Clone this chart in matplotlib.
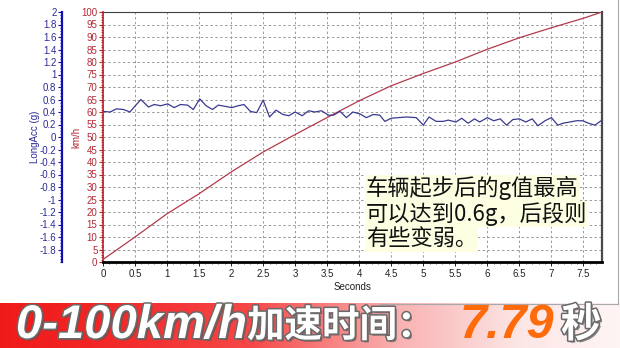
import numpy as np
import matplotlib
matplotlib.use("Agg")
import matplotlib.pyplot as plt
import matplotlib.patheffects as pe
from matplotlib.lines import Line2D
from matplotlib.ticker import MultipleLocator, FixedLocator

# ---------------- data ----------------
speed_time = [0, 0.5, 1.0, 1.5, 2.0, 2.5, 3.0, 3.5, 4.0, 4.5, 5.0, 5.5, 6.0, 6.5, 7.0, 7.5, 7.79]
speed_kmh = [1, 10, 19.3, 27.3, 36, 44, 51, 57.8, 64.5, 70.5, 75.4, 80, 85.1, 89.7, 93.7, 97.5, 100]

acc_time = [0, 0.11, 0.21, 0.32, 0.42, 0.59, 0.71, 0.80, 0.90, 1.01, 1.11, 1.21, 1.32, 1.41,
            1.51, 1.61, 1.71, 1.80, 1.91, 2.01, 2.11, 2.20, 2.30, 2.40, 2.50, 2.60, 2.70,
            2.81, 2.90, 3.00, 3.11, 3.21, 3.31, 3.41, 3.52, 3.60, 3.70, 3.80, 3.90, 4.01,
            4.11, 4.22, 4.32, 4.40, 4.50, 4.61, 4.74, 4.89, 5.00, 5.09, 5.20, 5.31, 5.39,
            5.51, 5.60, 5.70, 5.80, 5.88, 6.00, 6.10, 6.20, 6.30, 6.40, 6.50, 6.60, 6.70,
            6.79, 6.90, 7.00, 7.10, 7.18, 7.29, 7.39, 7.49, 7.58, 7.68, 7.79]
acc_g = [0.41, 0.40, 0.45, 0.44, 0.40, 0.60, 0.48, 0.52, 0.50, 0.53, 0.47, 0.52, 0.51, 0.44,
         0.61, 0.50, 0.44, 0.51, 0.49, 0.47, 0.50, 0.52, 0.41, 0.39, 0.59, 0.32, 0.43,
         0.36, 0.34, 0.40, 0.34, 0.42, 0.40, 0.42, 0.35, 0.35, 0.41, 0.31, 0.40, 0.37,
         0.31, 0.36, 0.35, 0.25, 0.30, 0.31, 0.32, 0.31, 0.19, 0.32, 0.25, 0.25, 0.27,
         0.24, 0.30, 0.22, 0.29, 0.24, 0.31, 0.26, 0.29, 0.19, 0.28, 0.29, 0.24, 0.29,
         0.18, 0.26, 0.31, 0.19, 0.22, 0.24, 0.26, 0.26, 0.22, 0.19, 0.27]

x_ticks = [0, 0.5, 1, 1.5, 2, 2.5, 3, 3.5, 4, 4.5, 5, 5.5, 6, 6.5, 7, 7.5]
x_tick_labels = ["0", "0.5", "1", "1.5", "2", "2.5", "3", "3.5", "4", "4.5", "5", "5.5",
                 "6", "6.5", "7", "7.5"]
speed_ticks = list(range(0, 101, 5))
acc_ticks = [-1.8, -1.6, -1.4, -1.2, -1, -0.8, -0.6, -0.4, -0.2, 0, 0.2, 0.4, 0.6, 0.8,
             1, 1.2, 1.4, 1.6, 1.8, 2]
acc_tick_labels = ["-1.8", "-1.6", "-1.4", "-1.2", "-1", "-0.8", "-0.6", "-0.4", "-0.2", "0",
                   "0.2", "0.4", "0.6", "0.8", "1", "1.2", "1.4", "1.6", "1.8", "2"]

note_lines = ["车辆起步后的g值最高", "可以达到0.6g，后段则", "有些变弱。"]
banner_main = "0-100km/h"
banner_cjk = "加速时间："
banner_value = "7.79"
banner_unit = "秒"

# ---------------- style ----------------
W, H = 620, 348
TICK_FONT = ["Liberation Sans Narrow", "Liberation Sans", "DejaVu Sans"]
CJK = ["Noto Sans CJK SC", "DejaVu Sans"]
BLUE_TXT = "#2B2B95"
BLUE_AX = "#1010B0"
RED_TXT = "#B52A35"
RED_AX = "#C0202A"

fig = plt.figure(figsize=(W / 100, H / 100), dpi=100)
fig.patch.set_facecolor("white")

# ----- banner background -----
bax = fig.add_axes([0, 0, 1, 45 / H])
xs = np.linspace(0, W, 620)
gb = np.interp(xs, [0, 100, 250, 400, 520, 620], [0.10, 0.15, 0.28, 0.70, 0.90, 0.96])
img = np.ones((2, len(xs), 3))
img[:, :, 1] = gb
img[:, :, 2] = gb
img[:, :, 0] = np.interp(xs, [0, 620], [0.94, 1.0])
bax.imshow(img, aspect="auto", extent=[0, W, 0, 45])
bax.set_axis_off()

# border lines
fig.add_artist(Line2D([618 / W, 618 / W], [44 / H, 1], transform=fig.transFigure,
                      color="#A8A8A8", lw=0.8))
fig.add_artist(Line2D([380 / W, 618 / W], [44 / H, 44 / H], transform=fig.transFigure,
                      color="#A8A8A8", lw=0.8))

# ----- main axes -----
ax = fig.add_axes([103 / W, 86 / H, 499 / W, 250 / H])
ax.set_xlim(0, 7.79)
ax.set_ylim(0, 100)
ax.plot(speed_time, speed_kmh, color="#B33A4C", lw=0.9, zorder=3)

ax.xaxis.set_major_locator(FixedLocator(x_ticks))
ax.set_xticklabels(x_tick_labels)
ax.xaxis.set_minor_locator(MultipleLocator(0.1))
ax.yaxis.set_major_locator(FixedLocator(speed_ticks))
ax.set_yticklabels([str(v) for v in speed_ticks])
ax.yaxis.set_minor_locator(MultipleLocator(1))

ax.grid(True, which="major", color="#9A9A9A", ls=(0, (2.5, 2.5)), lw=0.7)
ax.tick_params(axis="x", which="major", length=3, width=0.7, pad=2, labelsize=7,
               colors="#222222")
ax.tick_params(axis="x", which="minor", length=1.5, width=0.5, colors="#222222")
ax.tick_params(axis="y", which="major", length=3, width=0.8, pad=1, labelsize=7,
               colors=RED_AX, labelcolor=RED_TXT)
ax.tick_params(axis="y", which="minor", length=1.5, width=0.6, colors=RED_AX)
for lab in ax.get_xticklabels() + ax.get_yticklabels():
    lab.set_family(TICK_FONT)

ax.spines["left"].set_color(RED_AX)
ax.spines["left"].set_linewidth(1.2)
ax.spines["top"].set_color("#404040")
ax.spines["top"].set_linewidth(0.8)
ax.spines["right"].set_color("#4A4A4A")
ax.spines["right"].set_linewidth(1.6)
ax.spines["bottom"].set_color("black")
ax.spines["bottom"].set_linewidth(2.0)

ax.set_xlabel("Seconds", fontsize=7, family=TICK_FONT, color="#222222", labelpad=2)

# ----- acceleration axis -----
ax2 = ax.twinx()
ax2.set_ylim(-2, 2)
ax2.plot(acc_time, acc_g, color="#3A3A90", lw=0.9, zorder=2)
ax2.yaxis.tick_left()
ax2.spines["left"].set_position(("outward", 41 * 0.72))
ax2.spines["left"].set_color(BLUE_AX)
ax2.spines["left"].set_linewidth(1.6)
for s in ["right", "top", "bottom"]:
    ax2.spines[s].set_visible(False)
ax2.yaxis.set_major_locator(FixedLocator(acc_ticks))
ax2.set_yticklabels(acc_tick_labels)
ax2.yaxis.set_minor_locator(MultipleLocator(0.05))
ax2.tick_params(axis="y", which="major", length=3, width=0.8, pad=1, labelsize=7,
                colors=BLUE_AX, labelcolor=BLUE_TXT)
ax2.tick_params(axis="y", which="minor", length=1.5, width=0.6, colors=BLUE_AX)
for lab in ax2.get_yticklabels():
    lab.set_family(TICK_FONT)

# axis titles placed at their reference positions
mid_y = (H - 137) / H
fig.text(35 / W, mid_y, "LongAcc (g)", rotation=90, fontsize=7, family=TICK_FONT,
         color=BLUE_TXT, ha="center", va="center")
fig.text(76 / W, mid_y, "km/h", rotation=90, fontsize=7, family=TICK_FONT,
         color=RED_TXT, ha="center", va="center")

# ----- annotation -----
for line, base in zip(note_lines, [195, 221, 246]):
    fig.text(366 / W, (H - base) / H, line, fontsize=16, family=CJK, color="#111111",
             ha="left", va="baseline", zorder=10,
             bbox=dict(facecolor="#FEFEE2", edgecolor="none", pad=0.5))

# ----- banner texts -----
white_fx = [pe.withSimplePatchShadow(offset=(1.5, -1.5), shadow_rgbFace="#555555", alpha=0.7),
            pe.withStroke(linewidth=2.2, foreground="#6A6A6A")]
base_y = (H - 338) / H
fig.text(16 / W, base_y, banner_main, fontsize=34, family=["Liberation Sans", "DejaVu Sans"],
         weight="bold", style="italic", color="white", ha="left", va="baseline",
         path_effects=white_fx)
fig.text(247 / W, base_y + 1 / H, banner_cjk, fontsize=27, family=CJK, weight="black",
         color="white", ha="left", va="baseline", path_effects=white_fx)
fig.text(460 / W, base_y, banner_value, fontsize=35, family=["Liberation Sans", "DejaVu Sans"],
         weight="bold", style="italic", color="#FF6A0A", ha="left", va="baseline")
fig.text(561 / W, base_y + 1 / H, banner_unit, fontsize=29, family=CJK, weight="black",
         color="white", ha="left", va="baseline", path_effects=white_fx)

fig.savefig("out.png", dpi=100)
